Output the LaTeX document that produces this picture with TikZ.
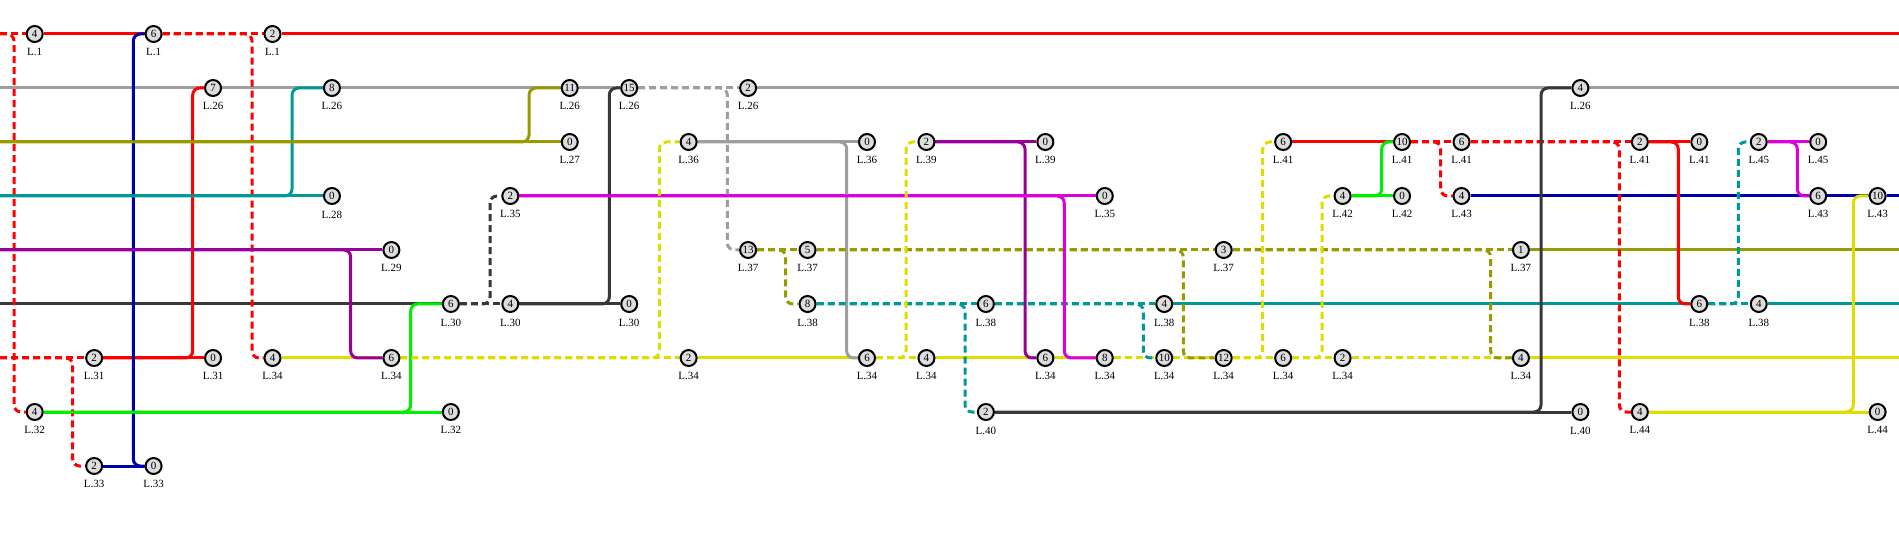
\documentclass[tikz,border=0pt]{standalone}
\usepackage{fontspec}
\setmainfont{Liberation Serif}
\usetikzlibrary{backgrounds}
\definecolor{cRed}{HTML}{FF0000}
\definecolor{cBlue}{HTML}{0000AA}
\definecolor{cGray}{HTML}{9E9E9E}
\definecolor{cTeal}{HTML}{009999}
\definecolor{cOlive}{HTML}{999900}
\definecolor{cPurple}{HTML}{990099}
\definecolor{cDark}{HTML}{383838}
\definecolor{cGreen}{HTML}{00EE00}
\definecolor{cMag}{HTML}{DD00DD}
\definecolor{cYel}{HTML}{DDDD00}
\definecolor{nodefill}{HTML}{DDDDDD}
\newcommand\St[5]{\node[stn,label={[lbl]below:L.#5}] (#1) at (#2,#3) {#4};}
\begin{document}
\begin{tikzpicture}[x=1pt,y=-1pt,
  stn/.style={circle,draw=black,line width=2pt,fill=nodefill,minimum size=16pt,inner sep=0pt,font=\fontsize{11}{12}\selectfont},
  lbl/.style={font=\fontsize{11}{12}\selectfont,inner sep=0pt,label distance=5.5pt},
  ln/.style={line width=3pt,rounded corners=7pt},
  dsh/.style={dash pattern=on 7pt off 4pt}]
\useasboundingbox (0,0) rectangle (1899,553);
% row 0
\St{a0}{34.7}{34}{4}{1}
\St{a2}{153.6}{34}{6}{1}
\St{a4}{272.5}{34}{2}{1}
% row 1
\St{b3}{213.05}{88}{7}{26}
\St{b5}{331.95}{88}{8}{26}
\St{b9}{569.75}{88}{11}{26}
\St{b10}{629.2}{88}{15}{26}
\St{b12}{748.1}{88}{2}{26}
\St{b26}{1580.4}{88}{4}{26}
% row 2
\St{c9}{569.75}{142}{0}{27}
\St{c11}{688.65}{142}{4}{36}
\St{c14}{867.0}{142}{0}{36}
\St{c15}{926.45}{142}{2}{39}
\St{c17}{1045.35}{142}{0}{39}
\St{c21}{1283.15}{142}{6}{41}
\St{c23}{1402.05}{142}{10}{41}
\St{c24}{1461.5}{142}{6}{41}
\St{c27}{1639.85}{142}{2}{41}
\St{c28}{1699.3}{142}{0}{41}
\St{c29}{1758.75}{142}{2}{45}
\St{c30}{1818.2}{142}{0}{45}
% row 3
\St{d5}{331.95}{196}{0}{28}
\St{d8}{510.3}{196}{2}{35}
\St{d18}{1104.8}{196}{0}{35}
\St{d22}{1342.6}{196}{4}{42}
\St{d23}{1402.05}{196}{0}{42}
\St{d24}{1461.5}{196}{4}{43}
\St{d30}{1818.2}{196}{6}{43}
\St{d31}{1877.65}{196}{10}{43}
% row 4
\St{e6}{391.4}{250}{0}{29}
\St{e12}{748.1}{250}{13}{37}
\St{e13}{807.55}{250}{5}{37}
\St{e20}{1223.7}{250}{3}{37}
\St{e25}{1520.95}{250}{1}{37}
% row 5
\St{f7}{450.85}{304}{6}{30}
\St{f8}{510.3}{304}{4}{30}
\St{f10}{629.2}{304}{0}{30}
\St{f13}{807.55}{304}{8}{38}
\St{f16}{985.9}{304}{6}{38}
\St{f19}{1164.25}{304}{4}{38}
\St{f28}{1699.3}{304}{6}{38}
\St{f29}{1758.75}{304}{4}{38}
% row 6
\St{g1}{94.15}{358}{2}{31}
\St{g3}{213.05}{358}{0}{31}
\St{g4}{272.5}{358}{4}{34}
\St{g6}{391.4}{358}{6}{34}
\St{g11}{688.65}{358}{2}{34}
\St{g14}{867.0}{358}{6}{34}
\St{g15}{926.45}{358}{4}{34}
\St{g17}{1045.35}{358}{6}{34}
\St{g18}{1104.8}{358}{8}{34}
\St{g19}{1164.25}{358}{10}{34}
\St{g20}{1223.7}{358}{12}{34}
\St{g21}{1283.15}{358}{6}{34}
\St{g22}{1342.6}{358}{2}{34}
\St{g25}{1520.95}{358}{4}{34}
% row 7
\St{h0}{34.7}{412}{4}{32}
\St{h7}{450.85}{412}{0}{32}
\St{h16}{985.9}{412}{2}{40}
\St{h26}{1580.4}{412}{0}{40}
\St{h27}{1639.85}{412}{4}{44}
\St{h31}{1877.65}{412}{0}{44}
% row 8
\St{i1}{94.15}{466}{2}{33}
\St{i2}{153.6}{466}{0}{33}
% edge coordinates
\coordinate (L0) at (0,34);
\coordinate (L1) at (0,88);
\coordinate (L2) at (0,142);
\coordinate (L3) at (0,196);
\coordinate (L4) at (0,250);
\coordinate (L5) at (0,304);
\coordinate (L6) at (0,358);
\coordinate (R0) at (1899,34);
\coordinate (R1) at (1899,88);
\coordinate (R3) at (1899,196);
\coordinate (R4) at (1899,250);
\coordinate (R5) at (1899,304);
\coordinate (R6) at (1899,358);
\begin{scope}[on background layer]
% ---- straight runs
\draw[ln,cRed,dsh] (L0) -- (a0);
\draw[ln,cRed] (a0) -- (a2);
\draw[ln,cRed,dsh] (a2) -- (a4);
\draw[ln,cRed] (a4) -- (R0);
\draw[ln,cRed,dsh] (L6) -- (g1);
\draw[ln,cRed] (g1) -- (g3);
\draw[ln,cRed] (c21) -- (c23);
\draw[ln,cRed,dsh] (c23) -- (c24);
\draw[ln,cRed,dsh] (c24) -- (c27);
\draw[ln,cRed] (c27) -- (c28);
\draw[ln,cBlue] (i1) -- (i2);
\draw[ln,cBlue] (d24) -- (d30);
\draw[ln,cBlue] (d30) -- (d31);
\draw[ln,cBlue] (d31) -- (R3);
\draw[ln,cGray] (L1) -- (b3);
\draw[ln,cGray] (b3) -- (b5);
\draw[ln,cGray] (b5) -- (b9);
\draw[ln,cGray] (b9) -- (b10);
\draw[ln,cGray,dsh] (b10) -- (b12);
\draw[ln,cGray] (b12) -- (b26);
\draw[ln,cGray] (b26) -- (R1);
\draw[ln,cGray] (c11) -- (c14);
\draw[ln,cTeal] (L3) -- (d5);
\draw[ln,cTeal,dsh] (f13) -- (f16);
\draw[ln,cTeal,dsh] (f16) -- (f19);
\draw[ln,cTeal] (f19) -- (f28);
\draw[ln,cTeal,dsh] (f28) -- (f29);
\draw[ln,cTeal] (f29) -- (R5);
\draw[ln,cOlive] (L2) -- (c9);
\draw[ln,cOlive,dsh] (e12) -- (e13);
\draw[ln,cOlive,dsh] (e13) -- (e20);
\draw[ln,cOlive,dsh] (e20) -- (e25);
\draw[ln,cOlive] (e25) -- (R4);
\draw[ln,cPurple] (L4) -- (e6);
\draw[ln,cPurple] (c15) -- (c17);
\draw[ln,cDark] (L5) -- (f7);
\draw[ln,cDark,dsh] (f7) -- (f8);
\draw[ln,cDark] (f8) -- (f10);
\draw[ln,cDark] (h16) -- (h26);
\draw[ln,cGreen] (h0) -- (h7);
\draw[ln,cGreen] (d22) -- (d23);
\draw[ln,cMag] (d8) -- (d18);
\draw[ln,cMag] (c29) -- (c30);
\draw[ln,cYel] (g4) -- (g6);
\draw[ln,cYel,dsh] (g6) -- (g11);
\draw[ln,cYel] (g11) -- (g14);
\draw[ln,cYel,dsh] (g14) -- (g15);
\draw[ln,cYel] (g15) -- (g17);
\draw[ln,cYel] (g17) -- (g18);
\draw[ln,cYel,dsh] (g18) -- (g19);
\draw[ln,cYel,dsh] (g19) -- (g20);
\draw[ln,cYel,dsh] (g20) -- (g21);
\draw[ln,cYel,dsh] (g21) -- (g22);
\draw[ln,cYel,dsh] (g22) -- (g25);
\draw[ln,cYel] (g25) -- (R6);
\draw[ln,cYel] (h27) -- (h31);
% ---- branches
\draw[ln,cRed,dsh] (L0) -| (14,412) -- (h0);
\draw[ln,cRed,dsh] (a2) -| (252,358) -- (g4);
\draw[ln,cRed] (g1) -| (192.7,88) -- (b3);
\draw[ln,cRed,dsh] (L6) -| (72.7,466) -- (i1);
\draw[ln,cRed,dsh] (c23) -| (1440.7,196) -- (d24);
\draw[ln,cRed,dsh] (c24) -| (1619.3,412) -- (h27);
\draw[ln,cRed] (c27) -| (1678.3,304) -- (f28);
\draw[ln,cBlue] (a2) -| (133.3,466) -- (i2);
\draw[ln,cGray,dsh] (b10) -| (727.3,250) -- (e12);
\draw[ln,cGray] (c11) -| (846.7,358) -- (g14);
\draw[ln,cTeal] (L3) -| (292,88) -- (b5);
\draw[ln,cTeal,dsh] (f13) -| (965,412) -- (h16);
\draw[ln,cTeal,dsh] (f16) -| (1143.3,358) -- (g19);
\draw[ln,cTeal,dsh] (f28) -| (1738.3,142) -- (c29);
\draw[ln,cOlive] (L2) -| (529,88) -- (b9);
\draw[ln,cOlive,dsh] (e12) -| (785.7,304) -- (f13);
\draw[ln,cOlive,dsh] (e13) -| (1183.3,358) -- (g20);
\draw[ln,cOlive,dsh] (e20) -| (1490.7,358) -- (g25);
\draw[ln,cPurple] (L4) -| (350.7,358) -- (g6);
\draw[ln,cPurple] (c15) -| (1025,358) -- (g17);
\draw[ln,cDark,dsh] (f7) -| (490,196) -- (d8);
\draw[ln,cDark] (f8) -| (609.3,88) -- (b10);
\draw[ln,cDark] (h16) -| (1541,88) -- (b26);
\draw[ln,cGreen] (h0) -| (410.7,304) -- (f7);
\draw[ln,cGreen] (d22) -| (1381.7,142) -- (c23);
\draw[ln,cMag] (d8) -| (1064.3,358) -- (g18);
\draw[ln,cMag] (c29) -| (1797.3,196) -- (d30);
\draw[ln,cYel,dsh] (g6) -| (659.3,142) -- (c11);
\draw[ln,cYel,dsh] (g14) -| (906,142) -- (c15);
\draw[ln,cYel,dsh] (g20) -| (1262.7,142) -- (c21);
\draw[ln,cYel,dsh] (g21) -| (1322,196) -- (d22);
\draw[ln,cYel] (h27) -| (1853.3,196) -- (d31);
\end{scope}
\end{tikzpicture}
\end{document}
